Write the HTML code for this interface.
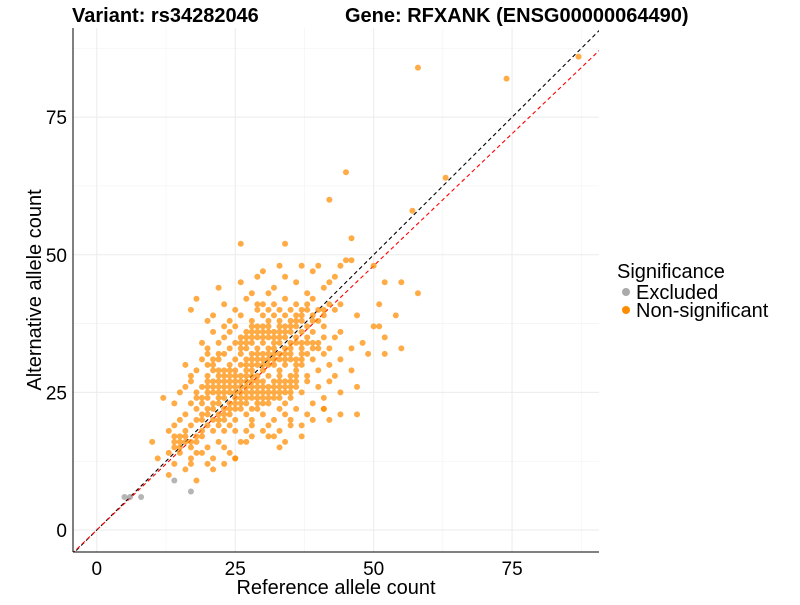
<!DOCTYPE html>
<html><head><meta charset="utf-8"><style>
body{margin:0;background:#fff;font-family:"Liberation Sans",sans-serif}
</style></head><body>
<svg id="chart" width="800" height="600" xmlns="http://www.w3.org/2000/svg" font-family="Liberation Sans, sans-serif">
<text x="72" y="22" font-size="20" font-weight="bold">Variant: rs34282046</text>
<text x="345" y="22" font-size="20" font-weight="bold">Gene: RFXANK (ENSG00000064490)</text>
<g id="grid"></g>
<g id="lines"></g>
<g id="pts"></g>
<g id="axes"></g>
<text x="336" y="594" font-size="20" text-anchor="middle">Reference allele count</text>
<text transform="translate(41,290) rotate(-90)" font-size="20" text-anchor="middle">Alternative allele count</text>
<g>
<text x="617" y="278" font-size="20">Significance</text>
<circle cx="626" cy="292" r="4" fill="#aaaaaa"/>
<text x="636" y="299" font-size="20">Excluded</text>
<circle cx="626" cy="310" r="4" fill="#ff8c00"/>
<text x="636" y="317" font-size="20">Non-significant</text>
</g>
</svg>
<script>
const xTicks=[0,25,50,75];
const yTicks=[0,25,50,75];
const redSlope=0.96;
const excludedPts="5,6 6,6 8,6 14,9 17,7";
const nonsigPts="13,14 14,15 14,16 14,17 15,14 15,15 15,16 15,17 16,16 16,17 17,12 17,13 17,15 17,16 18,14 18,16 18,17 19,17 20,12 20,15 21,11 22,16 23,15 24,14 25,13 26,16 27,16 28,17 31,17 33,15 34,16 37,17 "+
"13,18 14,19 15,20 16,18 16,21 17,19 18,20 18,22 19,18 19,21 20,19 20,22 21,18 21,20 22,19 22,21 23,18 23,20 23,22 24,19 24,21 25,18 25,20 26,22 27,18 27,21 28,19 28,20 29,22 30,18 30,21 31,19 32,20 33,18 33,22 34,21 35,19 35,20 36,22 37,19 38,21 39,20 41,22 42,20 44,21 "+
"12,24 14,23 15,25 16,26 17,23 17,27 18,24 18,25 19,26 19,23 20,24 20,27 21,25 21,23 22,26 22,24 23,25 23,27 24,23 24,26 25,24 25,25 26,26 26,23 27,25 27,27 28,24 28,26 29,23 29,25 30,27 30,24 31,26 31,23 32,25 32,27 33,24 33,26 34,23 34,25 35,27 35,24 36,26 37,25 38,27 39,23 40,26 41,24 42,27 44,25 47,26 "+
"16,30 17,28 18,29 19,31 20,28 20,32 21,29 21,30 22,31 22,28 23,29 23,32 24,30 24,28 25,31 25,29 26,32 26,30 27,28 27,31 28,29 28,32 29,30 29,28 30,31 30,29 31,32 31,28 32,30 32,31 33,29 33,28 34,32 34,30 35,28 35,31 36,29 37,32 37,30 38,28 39,31 40,29 41,32 42,30 43,28 44,31 46,29 49,32 52,32 "+
"19,34 20,33 21,36 22,34 23,35 23,37 24,33 24,36 25,34 25,37 26,35 27,33 27,36 28,34 28,37 29,35 29,33 30,36 30,34 31,37 31,33 32,35 32,36 33,34 33,37 34,33 34,35 35,36 36,34 36,37 37,33 38,35 39,36 40,34 41,37 42,33 43,35 44,36 46,33 48,34 50,37 51,37 52,35 55,33 "+
"17,40 18,42 20,38 21,39 23,41 24,38 25,40 26,39 27,42 28,38 29,40 30,41 31,38 32,39 33,40 34,42 35,38 36,41 37,39 38,40 39,42 40,38 41,39 43,40 44,41 47,39 51,41 54,39 "+
"22,44 26,45 28,43 29,46 30,47 31,43 32,44 33,48 34,46 36,45 37,48 38,43 39,47 40,48 41,44 42,45 43,46 44,48 45,49 46,49 50,48 52,45 55,45 58,43 "+
"26,52 34,52 46,53 42,60 45,65 57,58 63,64 58,84 74,82 87,86 "+
"10,16 11,13 13,10 14,12 16,11 18,9 21,13 25,13 23,12 19,14 32,17 47,21 41,22 "+
"19,20 20,21 21,22 22,20 22,23 23,21 23,24 24,22 24,25 25,22 25,23 26,24 26,25 27,23 27,24 28,22 28,25 29,24 29,26 30,23 30,25 30,26 31,24 31,25 32,24 32,26 33,25 33,27 34,26 34,27 35,25 35,26 36,27 36,28 "+
"27,29 27,30 28,30 28,31 29,31 29,32 30,30 30,32 31,30 31,31 32,32 32,33 33,31 33,32 34,31 35,32 35,33 36,30 36,31 37,31 37,34 38,32 38,34 39,33 39,34 40,33 41,35 "+
"26,33 26,34 27,34 27,35 28,35 28,36 29,36 29,37 30,35 30,37 31,35 31,36 32,34 33,35 33,36 34,36 34,37 35,34 35,37 36,35 36,38 37,36 37,38 38,37 39,38 "+
"19,24 20,25 20,26 21,26 21,27 22,25 22,27 23,26 24,27 25,26 25,27 26,27 26,28 27,26 28,27 28,28 29,27 23,28 24,29 25,28 22,29 21,31 20,30 22,32 "+
"29,41 30,39 31,40 32,41 33,38 34,39 35,40 36,39 37,40 38,41 39,39 40,40 41,40 42,41";
const NS="http://www.w3.org/2000/svg";
const X0=73,X1=599,Y0=28,Y1=552,xmin=-4.3,xmax=90.7,ymin=-4,ymax=91.2;
const sx=v=>X0+(v-xmin)/(xmax-xmin)*(X1-X0);
const sy=v=>Y1-(v-ymin)/(ymax-ymin)*(Y1-Y0);
function mk(tag,attrs,parent){const e=document.createElementNS(NS,tag);for(const k in attrs)e.setAttribute(k,attrs[k]);parent.appendChild(e);return e;}
const grid=document.getElementById('grid');
[12.5,37.5,62.5,87.5].forEach(v=>{
 let l=mk('line',{x1:sx(v),x2:sx(v),y1:Y0,y2:Y1,stroke:'#f2f2f2','stroke-width':0.6},grid);
 
 
 l=mk('line',{x1:X0,x2:X1,y1:sy(v),y2:sy(v),stroke:'#f2f2f2','stroke-width':0.6},grid);
 
 
});
xTicks.forEach(v=>{
 const l=mk('line',{x1:sx(v),x2:sx(v),y1:Y0,y2:Y1,stroke:'#ebebeb','stroke-width':1},grid);
 
 
});
yTicks.forEach(v=>{
 const l=mk('line',{x1:X0,x2:X1,y1:sy(v),y2:sy(v),stroke:'#ebebeb','stroke-width':1},grid);
 
 
});
const lines=document.getElementById('lines');
const svg=document.getElementById('chart');
const clip=mk('clipPath',{id:'pc'},svg);mk('rect',{x:X0,y:Y0,width:X1-X0,height:Y1-Y0},clip);
lines.setAttribute('clip-path','url(#pc)');
let bl=mk('line',{x1:sx(-10),y1:sy(-10),x2:sx(100),y2:sy(100),stroke:'#000','stroke-dasharray':'4,3','stroke-width':1.1},lines);


let rl=mk('line',{x1:sx(-10),y1:sy(-10*redSlope),x2:sx(100),y2:sy(100*redSlope),stroke:'#ff0000','stroke-dasharray':'4,3','stroke-width':1.1},lines);


const pts=document.getElementById('pts');
function draw(str,color,name){str.trim().split(/\s+/).forEach(p=>{const [a,b]=p.split(',').map(Number);
 const c=mk('circle',{cx:sx(a),cy:sy(b),r:3,fill:color,'fill-opacity':0.72},pts);
 
 
});}
draw(excludedPts,'#999999','excluded-point');
draw(nonsigPts,'#ff8c00','nonsig-point');
const axes=document.getElementById('axes');
let a=mk('line',{x1:X0,x2:X0,y1:Y0,y2:Y1,stroke:'#000','stroke-width':1},axes);


a=mk('line',{x1:X0,x2:X1,y1:Y1,y2:Y1,stroke:'#000','stroke-width':1},axes);


xTicks.forEach(v=>{
 const t=mk('text',{x:sx(v),y:575,'font-size':19,'text-anchor':'middle',fill:'#000'},axes);t.textContent=v;
 
 
});
yTicks.forEach(v=>{
 const t=mk('text',{x:67,y:sy(v)+7,'font-size':19,'text-anchor':'end',fill:'#000'},axes);t.textContent=v;
 
 
});
</script>
</body></html>
